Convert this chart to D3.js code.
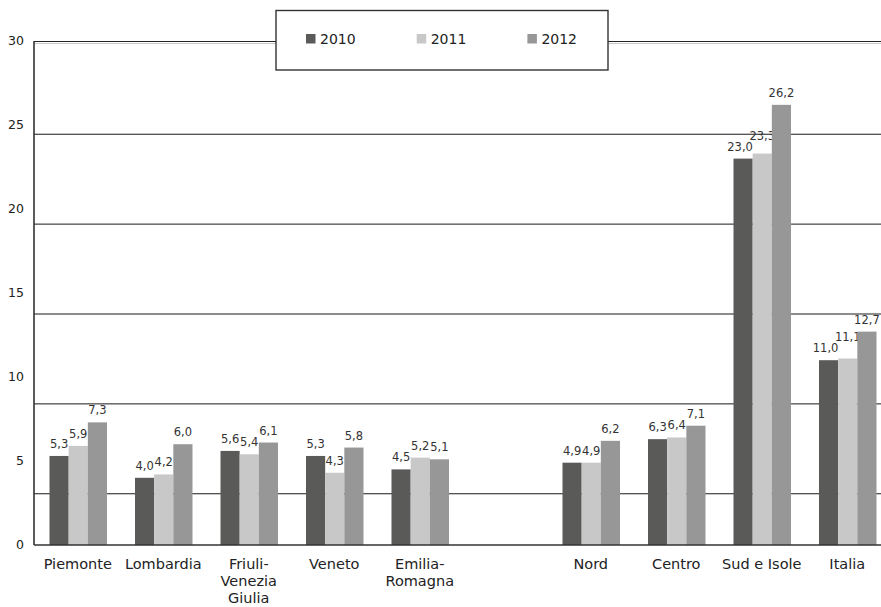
<!DOCTYPE html>
<html>
<head>
<meta charset="utf-8">
<script src="https://cdn.jsdelivr.net/npm/d3@7"></script>
<style>
  html, body { margin: 0; padding: 0; background: #fff; }
  svg { display: block; font-family: "DejaVu Sans", sans-serif; }
</style>
</head>
<body>
<svg id="chart" width="881" height="607"></svg>
<script>
// Regions and macro-areas; the empty entry leaves a gap between the two groups
const categories = ["Piemonte", "Lombardia", "Friuli-Venezia Giulia", "Veneto", "Emilia-Romagna", "", "Nord", "Centro", "Sud e Isole", "Italia"];
const categoryLabels = [["Piemonte"], ["Lombardia"], ["Friuli-", "Venezia", "Giulia"], ["Veneto"], ["Emilia-", "Romagna"], [], ["Nord"], ["Centro"], ["Sud e Isole"], ["Italia"]];
const years = ["2010", "2011", "2012"];
const values2010 = [5.3, 4.0, 5.6, 5.3, 4.5, null, 4.9, 6.3, 23.0, 11.0];
const values2011 = [5.9, 4.2, 5.4, 4.3, 5.2, null, 4.9, 6.4, 23.3, 11.1];
const values2012 = [7.3, 6.0, 6.1, 5.8, 5.1, null, 6.2, 7.1, 26.2, 12.7];
const yTicks = [0, 5, 10, 15, 20, 25, 30];
const gridValues = [3.05, 8.4, 13.75, 19.1, 24.45];
const colors = ["#5a5a58", "#c8c8c8", "#979797"];

const series = [values2010, values2011, values2012];
const svg = d3.select("#chart");

const plotLeft = 34, plotBottom = 545, plotTop = 41, plotRight = 881;

const y = d3.scaleLinear().domain([0, 30]).range([plotBottom, plotTop]);
const x = d3.scaleBand().domain(categories).range([35, 890]).padding(0);
const xs = d3.scaleBand().domain(years).range([14.5, 72]).padding(0);

const fmt = v => d3.format(".1f")(v).replace(".", ",");

// gridlines
svg.append("g").selectAll("line").data(gridValues).join("line")
  .attr("x1", plotLeft).attr("x2", plotRight)
  .attr("y1", d => y(d)).attr("y2", d => y(d))
  .attr("stroke", "#1a1a1a").attr("stroke-width", 1);

// top edge: dark line with a light line beneath
svg.append("line").attr("x1", plotLeft).attr("x2", plotRight)
  .attr("y1", y(30) + 0.5).attr("y2", y(30) + 0.5)
  .attr("stroke", "#222").attr("stroke-width", 1.2);
svg.append("line").attr("x1", plotLeft).attr("x2", plotRight)
  .attr("y1", y(30) + 2.5).attr("y2", y(30) + 2.5)
  .attr("stroke", "#c8c8c8").attr("stroke-width", 1.2);

// bars with value labels
const groups = svg.append("g").selectAll("g").data(categories).join("g")
  .attr("transform", d => `translate(${x(d)},0)`);

groups.each(function(cat, i) {
  const g = d3.select(this);
  const labels = [];
  years.forEach((yr, k) => {
    const v = series[k][i];
    if (v == null) return;
    g.append("rect")
      .attr("x", xs(yr)).attr("width", xs.bandwidth())
      .attr("y", y(v)).attr("height", y(0) - y(v))
      .attr("fill", colors[k]);
    const t = g.append("text")
      .attr("x", xs(yr) + xs.bandwidth() / 2)
      .attr("y", y(v) - 8)
      .attr("text-anchor", "middle")
      .attr("font-size", "11.5px")
      .attr("fill", "#333")
      .text(fmt(v));
    labels.push(t);
  });
  if (labels.length < 2) return;
  // keep the first two labels of a group apart when they would collide
  const a = labels[0], b = labels[1];
  const wa = a.node().getComputedTextLength(), wb = b.node().getComputedTextLength();
  const ca = +a.attr("x"), cb = +b.attr("x");
  const ya = +a.attr("y"), yb = +b.attr("y");
  if (cb - ca < (wa + wb) / 2 && Math.abs(ya - yb) < 11) {
    a.attr("x", ca - 3);
    b.attr("y", Math.min(yb, ya - 11));
  }
});

// axis lines
svg.append("line").attr("x1", plotLeft).attr("x2", plotLeft).attr("y1", plotTop).attr("y2", plotBottom)
  .attr("stroke", "#333").attr("stroke-width", 1.6);
svg.append("line").attr("x1", plotLeft).attr("x2", plotRight).attr("y1", plotBottom).attr("y2", plotBottom)
  .attr("stroke", "#333").attr("stroke-width", 1.6);

// y tick labels
svg.append("g").selectAll("text").data(yTicks).join("text")
  .attr("x", 24).attr("y", d => y(d))
  .attr("dy", "0.35em")
  .attr("text-anchor", "end")
  .attr("font-size", "12.5px")
  .attr("fill", "#222")
  .text(d => d);

// category labels
const catLabels = svg.append("g").selectAll("text").data(categories).join("text")
  .attr("text-anchor", "middle")
  .attr("font-size", "14.5px")
  .attr("fill", "#222")
  .attr("transform", d => `translate(${x(d) + x.bandwidth() / 2},569)`);
catLabels.each(function(d, i) {
  d3.select(this).selectAll("tspan").data(categoryLabels[i]).join("tspan")
    .attr("x", 0).attr("y", (t, j) => j * 17)
    .text(t => t);
});

// legend
const legend = svg.append("g");
legend.append("rect")
  .attr("x", 276).attr("y", 10.5).attr("width", 332).attr("height", 59.5)
  .attr("fill", "#fff").attr("stroke", "#333").attr("stroke-width", 1.4);
years.forEach((yr, k) => {
  const lx = 306 + k * 110.7;
  legend.append("rect").attr("x", lx).attr("y", 34).attr("width", 9.5).attr("height", 9.5)
    .attr("fill", colors[k]);
  legend.append("text").attr("x", lx + 14).attr("y", 38.8).attr("dy", "0.35em")
    .attr("font-size", "14px").attr("fill", "#222").text(yr);
});
</script>
</body>
</html>
